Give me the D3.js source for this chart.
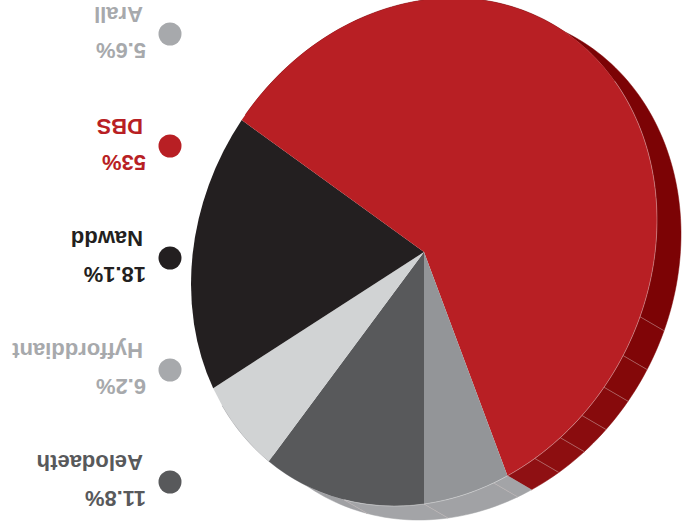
<!DOCTYPE html>
<html>
  <head>
    <title>Pie</title>
    <script src="https://d3js.org/d3.v7.min.js"></script>
    <style>
      body { margin: 0; background: #fff; }
      svg { display: block; }
      text { font-family: "Liberation Sans", Arial, sans-serif; font-weight: bold; font-size: 22px; }
    </style>
  </head>
  <body>
    <svg width="685" height="528"></svg>
    <script>
      const categories = ["Aelodaeth", "Hyfforddiant", "Nawdd", "DBS", "Arall"];
      const valueLabels = ["11.8%", "6.2%", "18.1%", "53%", "5.6%"];
      // slice shares as drawn in the picture, they differ a bit from the printed labels
      const shares = [11.6, 6.4, 17.7, 58.47, 5.83];
      const sliceColors = ["#58595b", "#d1d3d4", "#231f20", "#b81f24", "#939598"];
      const dotColors = ["#58595b", "#a7a9ac", "#231f20", "#b81f24", "#a7a9ac"];
      const textColors = ["#58595b", "#a7a9ac", "#231f20", "#b81f24", "#a7a9ac"];

      // rim facets, degrees clockwise from the slices' start
      const rimBreaks = [130, 292, 301.3, 309.4, 317.3, 324.2, 331.6, 339, 342.6, 360, 380.2, 420];
      const rimColors = ["#7c0305", "#800507", "#840809", "#870a0c", "#8a0c0e", "#8d0e10", "#8f1013",
                         "#a3a4a7", "#a1a2a5", "#a3a4a7", "#a0a1a4"];

      const width = 685;
      const height = 528;
      const cx = 261;
      const cy = 276;
      const depth = [-24, -14];
      // the pie is skewed: x scale, y shear, y scale (pixels per unit radius)
      const sx = 233;
      const shear = -32;
      const sy = 252;

      const svg = d3.select("svg");
      // whole chart is upside down in the reference
      const g = svg.append("g")
          .attr("transform", `rotate(180 ${width / 2} ${height / 2})`);

      const rimPoint = (deg, d) => {
        const t = deg * Math.PI / 180;
        const u = Math.sin(t);
        const v = -Math.cos(t);
        return [cx + sx * u + d * depth[0], cy + shear * u + sy * v + d * depth[1]];
      };
      const line = d3.line();
      const arcPoints = (a, b, d) => {
        const n = Math.ceil(Math.abs(b - a) / 1.5);
        return d3.range(n + 1).map(i => rimPoint(a + (b - a) * i / n, d));
      };

      // side of the disc
      g.selectAll(".rim")
        .data(d3.pairs(rimBreaks))
        .enter().append("path")
          .attr("class", "rim")
          .attr("d", ([a, b]) => line(arcPoints(a, b, 0).concat(arcPoints(b, a, 1))) + "Z")
          .attr("fill", (d, i) => rimColors[i])
          .attr("stroke", (d, i) => rimColors[i])
          .attr("stroke-width", 0.5);

      g.selectAll(".rim-sep")
        .data(rimBreaks.slice(1, -1).filter(d => d !== 339))
        .enter().append("path")
          .attr("class", "rim-sep")
          .attr("d", d => line([rimPoint(d, 0), rimPoint(d, 1)]))
          .attr("fill", "none")
          .attr("stroke", "#d8c8c8")
          .attr("stroke-opacity", 0.55)
          .attr("stroke-width", 0.7);

      // top face
      const pie = d3.pie().sort(null);
      const arc = d3.arc().innerRadius(0).outerRadius(100);
      const face = g.append("g")
          .attr("transform", `matrix(${sx / 100},${shear / 100},0,${sy / 100},${cx},${cy})`);
      face.selectAll("path")
        .data(pie(shares))
        .enter().append("path")
          .attr("d", arc)
          .attr("fill", (d, i) => sliceColors[i]);

      // pale line where top meets side
      g.append("path")
        .attr("d", line(arcPoints(235, 380, 0)))
        .attr("fill", "none")
        .attr("stroke", "#ffffff")
        .attr("stroke-opacity", 0.4)
        .attr("stroke-width", 0.8);

      // legend
      const yScale = d3.scalePoint().domain(categories).range([46, 494]);
      const legend = g.selectAll(".legend")
        .data(categories)
        .enter().append("g")
          .attr("class", "legend")
          .attr("transform", d => `translate(515, ${yScale(d)})`);
      legend.append("circle")
        .attr("r", 11.5)
        .attr("fill", (d, i) => dotColors[i]);
      legend.append("text")
        .attr("x", 24)
        .attr("y", -9)
        .attr("fill", (d, i) => textColors[i])
        .text((d, i) => valueLabels[i]);
      legend.append("text")
        .attr("x", 27)
        .attr("y", 27)
        .attr("fill", (d, i) => textColors[i])
        .text(d => d);
    </script>
  </body>
</html>
